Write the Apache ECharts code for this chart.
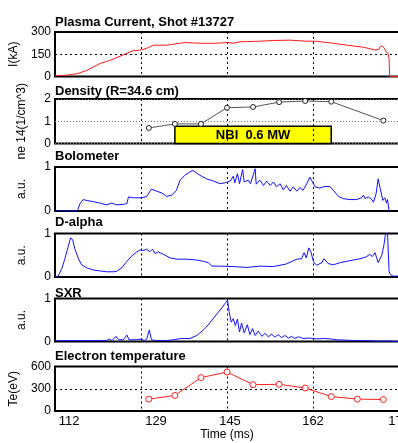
<!DOCTYPE html>
<html><head><meta charset="utf-8">
<script src="https://cdn.jsdelivr.net/npm/echarts@6/dist/echarts.min.js"></script>
<style>html,body{margin:0;padding:0;background:#fff}#c{width:398px;height:443px}</style>
</head><body><div id="c"></div>
<script>
// ---- Data (time in ms) ----
const panelTitles = ['Plasma Current, Shot #13727', 'Density (R=34.6 cm)', 'Bolometer', 'D-alpha', 'SXR', 'Electron temperature'];
const yAxisNames = ['I(kA)', 'ne 14(1/cm^3)', 'a.u.', 'a.u.', 'a.u.', 'Te(eV)'];
const timeTickLabels = ['112', '129', '145', '162', '178'];

const currentTime = [112, 114.2, 116.2, 118.1, 120.6, 122.6, 124.5, 127.0, 128.6, 129.9, 130.9, 133.4, 137.0, 139.8, 143.0, 145.1, 146.2, 147.5, 151.3, 153.9, 157.1, 160.3, 161.9, 164.8, 168.0, 171.2, 173.4, 174.1, 174.4, 174.8, 175.2, 175.5, 175.9, 176.1, 176.2, 178];
const currentKA = [5, 9, 18, 41, 87, 110, 137, 174, 179, 195, 211, 211, 229, 224, 224, 229, 224, 234, 238, 243, 245, 238, 238, 227, 211, 197, 179, 183, 202, 206, 190, 167, 156, 121, 0, 0];

const densityTime = [130, 135, 140, 145, 150, 155, 160, 165, 175];
const densityValues = [0.70, 0.88, 0.88, 1.61, 1.64, 1.86, 1.91, 1.88, 1.03];
const nbiStart = 135, nbiEnd = 165, nbiLevel = 0.77, nbiLabel = 'NBI  0.6 MW';

const bolometerTime = [112, 116.3, 116.8, 117.4, 118.1, 119.4, 120.6, 121.9, 122.9, 123.8, 125.1, 125.8, 126.1, 127.0, 128.6, 129.6, 130.5, 131.5, 132.5, 133.4, 134.4, 135.3, 136.0, 136.9, 137.9, 138.5, 139.2, 140.1, 141.1, 142.4, 143.7, 144.9, 145.6, 146.2, 146.5, 147.0, 147.4, 148.0, 148.3, 149.1, 149.5, 150.4, 150.6, 151.3, 152.0, 152.6, 153.3, 153.9, 154.5, 155.2, 155.8, 156.4, 157.1, 157.7, 158.4, 159.0, 159.6, 160.3, 160.9, 161.2, 161.9, 162.8, 163.8, 164.8, 165.4, 166.4, 167.3, 168.6, 169.9, 170.8, 171.2, 171.5, 172.1, 172.8, 173.1, 173.6, 174.0, 174.4, 174.9, 175.3, 175.6, 175.8, 176.1];
const bolometerValues = [0, 0, 0.17, 0.26, 0.24, 0.21, 0.18, 0.14, 0.18, 0.14, 0.15, 0.17, 0.32, 0.30, 0.30, 0.33, 0.50, 0.45, 0.41, 0.33, 0.36, 0.47, 0.70, 0.81, 0.89, 0.92, 0.86, 0.79, 0.73, 0.68, 0.62, 0.65, 0.68, 0.79, 0.64, 0.85, 0.62, 0.94, 0.66, 0.70, 0.62, 0.96, 0.61, 0.70, 0.58, 0.68, 0.58, 0.66, 0.55, 0.62, 0.48, 0.58, 0.45, 0.55, 0.45, 0.53, 0.47, 0.62, 0.77, 0.70, 0.55, 0.52, 0.56, 0.55, 0.47, 0.33, 0.28, 0.26, 0.26, 0.30, 0.36, 0.28, 0.32, 0.26, 0.20, 0.39, 0.73, 0.51, 0.24, 0.30, 0.18, 0.26, 0];

const dalphaTime = [112, 112.6, 113.3, 113.9, 114.6, 115.0, 115.4, 115.8, 116.5, 117.1, 118.1, 119.4, 120.6, 121.9, 123.2, 123.8, 124.8, 125.8, 126.7, 127.7, 128.3, 128.9, 129.6, 130.2, 130.7, 131.2, 131.8, 132.8, 134.1, 135.3, 137.3, 139.2, 140.5, 141.4, 142.1, 143.7, 146.2, 148.8, 151.3, 153.9, 156.4, 158.4, 159.3, 159.8, 160.2, 160.7, 161.1, 161.6, 162.2, 163.2, 163.6, 164.4, 165.4, 166.7, 168.0, 169.2, 170.5, 171.5, 172.4, 172.9, 173.4, 174.0, 174.7, 175.1, 175.4, 175.8, 176.1, 176.4, 176.9, 178];
const dalphaValues = [0, 0.02, 0.19, 0.42, 0.73, 0.90, 0.85, 0.65, 0.42, 0.28, 0.21, 0.16, 0.14, 0.12, 0.12, 0.13, 0.21, 0.36, 0.48, 0.58, 0.62, 0.61, 0.64, 0.58, 0.64, 0.54, 0.58, 0.52, 0.44, 0.41, 0.41, 0.39, 0.36, 0.33, 0.25, 0.25, 0.24, 0.22, 0.25, 0.24, 0.30, 0.41, 0.42, 0.56, 0.44, 0.67, 0.58, 0.35, 0.27, 0.33, 0.42, 0.31, 0.28, 0.33, 0.36, 0.39, 0.42, 0.45, 0.52, 0.47, 0.56, 0.33, 0.50, 0.73, 0.98, 1.0, 0.12, 0.05, 0.02, 0.02];

const sxrTime = [112, 121.9, 122.4, 122.9, 123.7, 124.2, 125.1, 125.8, 126.2, 127.7, 128.6, 129.1, 129.6, 130.1, 130.5, 131.5, 133.4, 134.7, 136.3, 137.9, 139.2, 140.5, 141.7, 143.0, 144.0, 144.6, 145.1, 145.4, 145.8, 146.2, 146.6, 147.0, 147.4, 147.8, 148.3, 148.9, 149.4, 149.9, 150.4, 151.0, 151.7, 152.3, 152.9, 153.6, 154.2, 154.8, 155.5, 156.1, 156.8, 157.4, 158.0, 158.7, 159.6, 160.9, 162.2, 163.5, 164.8, 166.0, 168.0, 169.9, 171.8, 173.7, 176.3, 178];
const sxrValues = [0.02, 0.02, 0.06, 0.02, 0.12, 0.04, 0.04, 0.15, 0.04, 0.04, 0.06, 0.02, 0.06, 0.27, 0.04, 0.02, 0.02, 0.04, 0.07, 0.07, 0.14, 0.27, 0.43, 0.63, 0.78, 0.88, 0.96, 0.70, 0.45, 0.53, 0.37, 0.52, 0.22, 0.43, 0.20, 0.39, 0.16, 0.30, 0.14, 0.24, 0.12, 0.19, 0.11, 0.17, 0.10, 0.16, 0.09, 0.14, 0.08, 0.12, 0.07, 0.11, 0.07, 0.08, 0.06, 0.07, 0.06, 0.04, 0.03, 0.02, 0.02, 0.01, 0.01, 0.0];

const teTime = [130, 135, 140, 145, 150, 155, 160, 165, 170, 175];
const teValues = [160, 210, 450, 525, 355, 360, 310, 195, 160, 155];

// ---- Layout ----
const gridTops = [32, 99, 167, 233.5, 298.5, 366.5];
const gridHeights = [44.5, 44.5, 44, 43.5, 43, 44.5];
const titleTops = [16, 84.5, 149.5, 216, 287, 350];
const yMax = [300, 2, 1, 1, 1, 600];
const yInterval = [150, 1, 1, 1, 1, 300];
const ySplit = [
  {show: true, lineStyle: {color: '#000', type: [2, 3], width: 1}},
  {show: true, lineStyle: {color: '#777', type: [1, 2], width: 1}},
  {show: false}, {show: false}, {show: false},
  {show: true, lineStyle: {color: '#000', type: [2, 3], width: 1}}
];
const FONT = 'Liberation Sans, Arial, sans-serif';
const labelShift = {112: 14, 129: 15, 145: 3, 162: 0, 178: 0};

const pairs = (t, v) => t.map((x, i) => [x, v[i]]);

const grid = gridTops.map((t, i) => ({
  left: 55, width: 344, top: t, height: gridHeights[i],
  outerBoundsMode: 'none', containLabel: false,
  show: true, borderColor: '#000', borderWidth: 2, backgroundColor: '#fff'
}));

const rich = {};
Object.keys(labelShift).forEach(k => {
  rich['s' + k] = {padding: [0, 0, 0, labelShift[k] * 2], fontSize: 13, fontFamily: FONT, color: '#000'};
});

const xAxis = gridTops.map((t, i) => ({
  type: 'value', gridIndex: i, min: 112, max: 178, interval: 16.5,
  z: i === 1 ? 3 : 0,
  axisLine: {show: false}, axisTick: {show: false},
  axisLabel: {
    show: i === 5, margin: 4, fontSize: 13, fontFamily: FONT, color: '#000',
    showMinLabel: true, showMaxLabel: true, hideOverlap: false,
    formatter: v => { const r = String(Math.round(v)); return '{s' + r + '|' + r + '}'; },
    rich: rich
  },
  splitLine: {show: true, lineStyle: {color: '#000', type: [2, 3], width: 1}},
  name: i === 5 ? 'Time (ms)' : '', nameLocation: 'middle', nameGap: 18,
  nameTextStyle: {fontSize: 12, fontFamily: FONT, color: '#000'}
}));

const yAxis = gridTops.map((t, i) => ({
  type: 'value', gridIndex: i, min: 0, max: yMax[i], interval: yInterval[i],
  axisLine: {show: false}, axisTick: {show: false},
  axisLabel: {margin: 4, fontSize: 12, fontFamily: FONT, color: '#000'},
  splitLine: ySplit[i],
  name: yAxisNames[i], nameLocation: 'middle', nameGap: 27,
  nameTextStyle: {fontSize: 12, fontFamily: FONT, color: '#000'}
}));

const title = panelTitles.map((txt, i) => ({
  text: txt, left: 55, top: titleTops[i], padding: 0,
  textStyle: {fontSize: 13, fontWeight: 'bold', fontFamily: FONT, color: '#000'}
}));

const blue = '#1010ff';
const series = [
  {type: 'line', xAxisIndex: 0, yAxisIndex: 0, data: pairs(currentTime, currentKA), showSymbol: false,
   lineStyle: {color: '#ff1a1a', width: 1}},
  {type: 'line', xAxisIndex: 1, yAxisIndex: 1, data: pairs(densityTime, densityValues),
   symbol: 'circle', symbolSize: 5, itemStyle: {color: '#fff', borderColor: '#222', borderWidth: 1},
   lineStyle: {color: '#555', width: 1}, z: 4,
   markArea: {silent: true,
     itemStyle: {color: '#ffff00', borderColor: '#000', borderWidth: 1.5},
     label: {show: true, position: 'inside', color: '#000', fontWeight: 'bold', fontSize: 13, fontFamily: FONT},
     data: [[{xAxis: nbiStart, yAxis: 0, name: nbiLabel}, {xAxis: nbiEnd, yAxis: nbiLevel}]]}},
  {type: 'line', xAxisIndex: 2, yAxisIndex: 2, data: pairs(bolometerTime, bolometerValues), showSymbol: false,
   lineStyle: {color: blue, width: 1}},
  {type: 'line', xAxisIndex: 3, yAxisIndex: 3, data: pairs(dalphaTime, dalphaValues), showSymbol: false,
   lineStyle: {color: blue, width: 1}},
  {type: 'line', xAxisIndex: 4, yAxisIndex: 4, data: pairs(sxrTime, sxrValues), showSymbol: false,
   lineStyle: {color: blue, width: 1}},
  {type: 'line', xAxisIndex: 5, yAxisIndex: 5, data: pairs(teTime, teValues),
   symbol: 'circle', symbolSize: 6, itemStyle: {color: '#fff', borderColor: '#ff2020', borderWidth: 1},
   lineStyle: {color: '#ff2020', width: 1}}
];

const chart = echarts.init(document.getElementById('c'), null, {renderer: 'canvas'});
chart.setOption({animation: false, backgroundColor: '#fff', title, grid, xAxis, yAxis, series});
</script></body></html>
